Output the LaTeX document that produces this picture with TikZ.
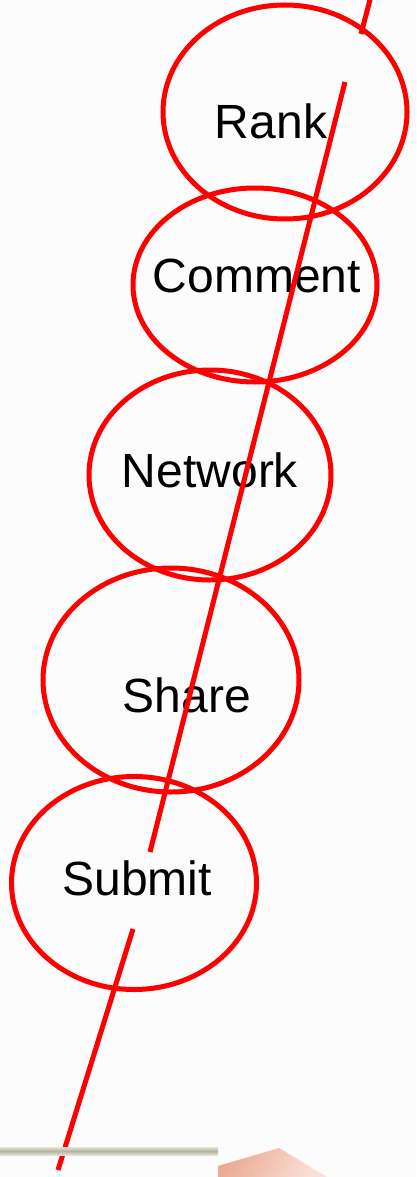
\documentclass[tikz,border=0pt]{standalone}
\usepackage{fontspec}
\setmainfont{Liberation Sans}
\usetikzlibrary{shapes.geometric}
\definecolor{barmid}{HTML}{B4B4A4}
\definecolor{baredge}{HTML}{E2E2D6}
\definecolor{pinkdark}{HTML}{EBAA92}
\definecolor{pinklight}{HTML}{FBE0D8}
\tikzset{
  oval/.style={ellipse, draw=red, line width=5pt, inner sep=0pt},
  lbl/.style={anchor=base, font=\fontsize{48}{58}\selectfont, text=black, inner sep=0pt},
  redline/.style={draw=red, line width=5pt}
}
\begin{document}
\begin{tikzpicture}[x=1pt,y=-1pt]
\useasboundingbox (0,0) rectangle (416,1177);
\fill[white!99!black] (0,0) rectangle (416,1177);
% ellipses
\node[oval, minimum width=244pt, minimum height=214pt] (rankE) at (285,112) {};
\node[oval, minimum width=244pt, minimum height=194pt] (commentE) at (255,285) {};
\node[oval, minimum width=242pt, minimum height=210pt] (networkE) at (210,475) {};
\node[oval, minimum width=256pt, minimum height=224pt] (shareE) at (171,680) {};
\node[oval, minimum width=245pt, minimum height=213pt] (submitE) at (134,883) {};
% labels
\node[lbl] (rank) at (271,139) {Rank};
\node[lbl] (comment) at (257,292) {Comment};
\node[lbl] (network) at (210,487) {Network};
\node[lbl] (share) at (187,712) {Share};
\node[lbl] (submit) at (137,895) {Submit};
% line segments
\coordinate (a1) at (371,-4);
\coordinate (a2) at (361,34);
\coordinate (b1) at (345,82);
\coordinate (b2) at (150,852);
\coordinate (c1) at (133,929);
\coordinate (c2) at (58,1170);
\draw[redline] (a1) -- (a2);
\draw[redline] (b1) -- (b2);
\draw[redline] (c1) -- (c2);
% bottom bar
\shade[top color=baredge, bottom color=baredge, middle color=barmid] (0,1147) rectangle (218,1155);
% pink shape
\shade[left color=pinkdark, right color=pinklight, shading angle=60] (218,1166) -- (279,1148) -- (327,1177) -- (218,1177) -- cycle;
\end{tikzpicture}
\end{document}
